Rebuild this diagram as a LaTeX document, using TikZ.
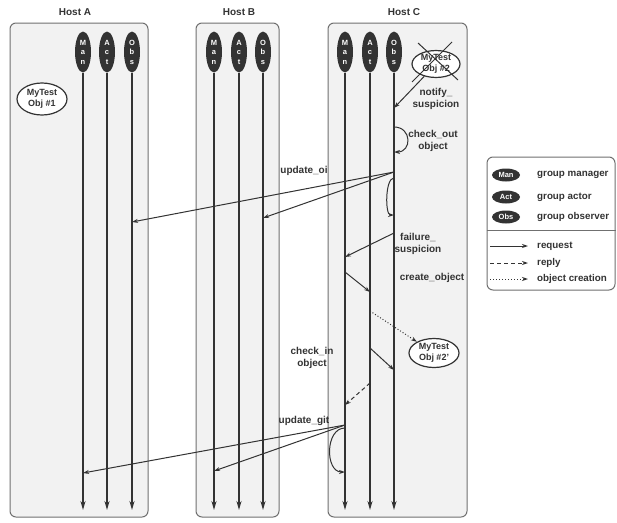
\documentclass[tikz,border=0pt]{standalone}
\usepackage{fontspec}
\setmainfont{Liberation Sans}
\usepackage{tikz}
\usetikzlibrary{arrows.meta, positioning, shapes.geometric, calc}

\definecolor{ink}{HTML}{333333}
\definecolor{frame}{HTML}{707070}
\definecolor{hostbg}{HTML}{F2F2F2}

\begin{document}
\begin{tikzpicture}[
    x=1pt, y=-1pt,
    host/.style={draw=frame, fill=hostbg, line width=1pt, rounded corners=6pt,
                 inner sep=0pt},
    hosttitle/.style={font=\bfseries\fontsize{10}{12}\selectfont, text=ink},
    head/.style={ellipse, fill=ink, text=white, inner sep=0pt,
                 minimum width=16pt, minimum height=41pt, align=center,
                 font=\bfseries\fontsize{7.5}{9.5}\selectfont},
    obj/.style={ellipse, draw=ink, fill=white, line width=1.2pt, inner sep=0pt,
                minimum width=50pt, minimum height=29pt, align=center,
                font=\bfseries\fontsize{9}{11}\selectfont, text=ink},
    life/.style={draw=ink, line width=1.6pt, -{Stealth[length=9pt, width=5pt]}},
    req/.style={draw=ink, line width=1pt, -{Stealth[length=6pt, width=4pt]}},
    rep/.style={req, dash pattern=on 4pt off 3pt},
    crt/.style={req, dash pattern=on 1pt off 2pt},
    lbl/.style={font=\bfseries\fontsize{10}{12.5}\selectfont, text=ink,
                align=center, inner sep=0pt},
    key/.style={ellipse, fill=ink, text=white, inner sep=0pt,
                minimum width=28pt, minimum height=13pt,
                font=\bfseries\fontsize{7.5}{8}\selectfont},
    keytext/.style={anchor=west, inner sep=0pt, text=ink,
                    font=\bfseries\fontsize{9.8}{11}\selectfont},
]
    \useasboundingbox[fill=white] (0,0) rectangle (617,522);

    % Hosts
    \node[host, minimum width=138pt, minimum height=494pt] (hostA) at (79,270) {};
    \node[host, minimum width=83pt, minimum height=494pt] (hostB) at (237.5,270) {};
    \node[host, minimum width=139pt, minimum height=494pt] (hostC) at (397.5,270) {};
    \node[hosttitle] (titleA) at (75,12) {Host A};
    \node[hosttitle] (titleB) at (239,12) {Host B};
    \node[hosttitle] (titleC) at (404,12) {Host C};

    % Group members
    \node[head] (aMan) at (83,52) {M\\a\\n};
    \node[head] (aAct) at (107,52) {A\\c\\t};
    \node[head] (aObs) at (132,52) {O\\b\\s};
    \node[head] (bMan) at (214,52) {M\\a\\n};
    \node[head] (bAct) at (239,52) {A\\c\\t};
    \node[head] (bObs) at (263,52) {O\\b\\s};
    \node[head] (cMan) at (345,52) {M\\a\\n};
    \node[head] (cAct) at (370,52) {A\\c\\t};
    \node[head] (cObs) at (394,52) {O\\b\\s};

    \coordinate (aManEnd) at (aMan |- 0,510);
    \coordinate (aActEnd) at (aAct |- 0,510);
    \coordinate (aObsEnd) at (aObs |- 0,510);
    \coordinate (bManEnd) at (bMan |- 0,510);
    \coordinate (bActEnd) at (bAct |- 0,510);
    \coordinate (bObsEnd) at (bObs |- 0,510);
    \coordinate (cManEnd) at (cMan |- 0,510);
    \coordinate (cActEnd) at (cAct |- 0,510);
    \coordinate (cObsEnd) at (cObs |- 0,510);

    \draw[life] (aMan) -- (aManEnd);
    \draw[life] (aAct) -- (aActEnd);
    \draw[life] (aObs) -- (aObsEnd);
    \draw[life] (bMan) -- (bManEnd);
    \draw[life] (bAct) -- (bActEnd);
    \draw[life] (bObs) -- (bObsEnd);
    \draw[life] (cMan) -- (cManEnd);
    \draw[life] (cAct) -- (cActEnd);
    \draw[life] (cObs) -- (cObsEnd);

    % Objects
    \node[obj, minimum height=32pt] (obj1) at (42,99) {MyTest\\Obj \#1};
    \node[obj, minimum width=48pt, minimum height=26pt] (obj2) at (436,64) {MyTest\\Obj \#2};
    \node[obj] (obj2b) at (434,353) {MyTest\\Obj \#2'};
    \draw[ink, line width=1pt] ([shift={(-18,-21)}]obj2.center) -- ([shift={(22,16)}]obj2.center);
    \draw[ink, line width=1pt] ([shift={(16,-22)}]obj2.center) -- ([shift={(-24,18)}]obj2.center);

    % Message points on the lifelines
    \coordinate (cObs1) at (cObs |- 0,108);
    \coordinate (cObs2) at (cObs |- 0,127);
    \coordinate (cObs3) at (cObs |- 0,152);
    \coordinate (cObs4) at (cObs |- 0,172);
    \coordinate (cObs5) at (cObs |- 0,178);
    \coordinate (cObs6) at (cObs |- 0,215);
    \coordinate (cObs7) at (cObs |- 0,233);
    \coordinate (cObs8) at (cObs |- 0,370);
    \coordinate (aObs1) at (aObs |- 0,222);
    \coordinate (bObs1) at (bObs |- 0,218);
    \coordinate (cMan1) at (cMan |- 0,257);
    \coordinate (cMan2) at (cMan |- 0,272);
    \coordinate (cMan3) at (cMan |- 0,405);
    \coordinate (cMan4) at (cMan |- 0,425);
    \coordinate (cMan5) at (cMan |- 0,428);
    \coordinate (cMan6) at (cMan |- 0,472);
    \coordinate (cAct1) at (cAct |- 0,292);
    \coordinate (cAct2) at (cAct |- 0,311);
    \coordinate (cAct3) at (cAct |- 0,348);
    \coordinate (cAct4) at (cAct |- 0,383);
    \coordinate (aMan1) at (aMan |- 0,473);
    \coordinate (bMan1) at (bMan |- 0,471);

    \draw[req] (obj2) -- (cObs1);
    \draw[req] (cObs2) .. controls +(18,0) and +(18,0) .. (cObs3);
    \draw[req] (cObs4) -- (aObs1);
    \draw[req] (cObs4) -- (bObs1);
    \draw[req] (cObs5) .. controls +(-9,0) and +(-9,0) .. (cObs6);
    \draw[req] (cObs7) -- (cMan1);
    \draw[req] (cMan2) -- (cAct1);
    \draw[crt] (cAct2) -- (obj2b);
    \draw[req] (cAct3) -- (cObs8);
    \draw[rep] (cAct4) -- (cMan3);
    \draw[req] (cMan4) -- (aMan1);
    \draw[req] (cMan4) -- (bMan1);
    \draw[req] (cMan5) .. controls +(-20,0) and +(-20,0) .. (cMan6);

    % Annotations
    \node[lbl] (lNotify) at (436,99) {notify\_\\suspicion};
    \node[lbl] (lCheckOut) at (433,141) {check\_out\\object};
    \node[lbl] (lUpdOi) at (304,171) {update\_oi};
    \node[lbl] (lFailure) at (418,244) {failure\_\\suspicion};
    \node[lbl] (lCreate) at (432,278) {create\_object};
    \node[lbl] (lCheckIn) at (312,358) {check\_in\\object};
    \node[lbl] (lUpdGit) at (304,421) {update\_git};

    % Legend
    \node[host, fill=white, minimum width=128pt, minimum height=133pt] (legend) at (551,223.5) {};
    \draw[frame, line width=1pt] (legend.west |- 0,230) -- (legend.east |- 0,230);
    \node[key] (kMan) at (506,175) {Man};
    \node[key] (kAct) at (506,197) {Act};
    \node[key] (kObs) at (506,217) {Obs};
    \node[keytext] (tMan) at (537,175) {group manager};
    \node[keytext] (tAct) at (537,197) {group actor};
    \node[keytext] (tObs) at (537,217) {group observer};
    \coordinate (kReqA) at (490,246);
    \coordinate (kReqB) at (528,246);
    \coordinate (kRepA) at (490,263);
    \coordinate (kRepB) at (528,263);
    \coordinate (kCrtA) at (490,279);
    \coordinate (kCrtB) at (528,279);
    \draw[req] (kReqA) -- (kReqB);
    \draw[rep] (kRepA) -- (kRepB);
    \draw[crt] (kCrtA) -- (kCrtB);
    \node[keytext] (tReq) at (537,246) {request};
    \node[keytext] (tRep) at (537,263) {reply};
    \node[keytext] (tCrt) at (537,279) {object creation};
\end{tikzpicture}
\end{document}
